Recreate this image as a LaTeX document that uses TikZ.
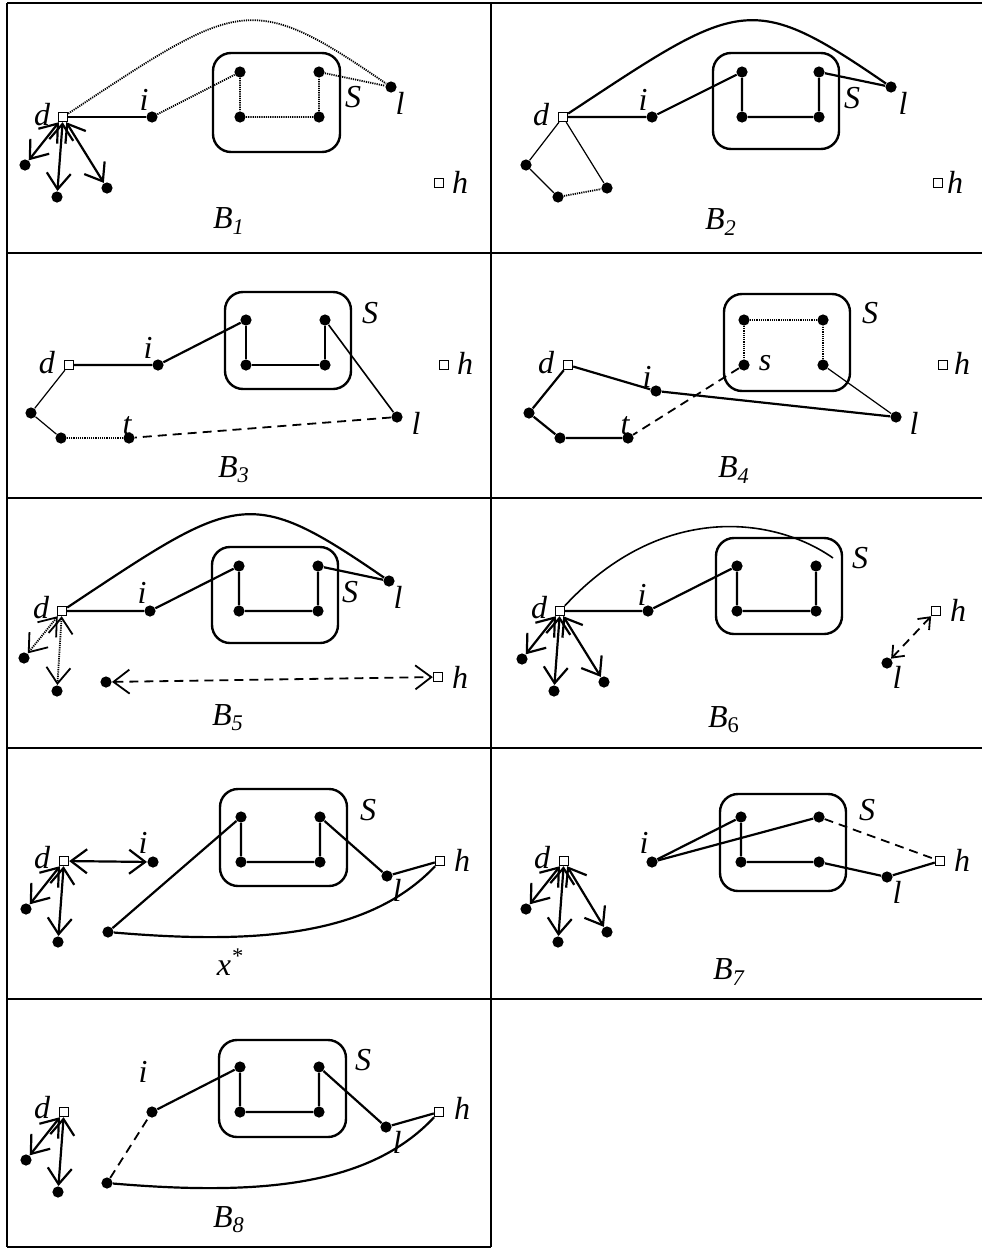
\documentclass[tikz,border=0pt]{standalone}
\usepackage{fontspec}
\setmainfont{Liberation Serif}
\usetikzlibrary{arrows.meta}

\begin{document}
\begin{tikzpicture}[x=0.5pt,y=-0.5pt,
  dot/.style={circle,fill,inner sep=0pt,minimum size=5.6pt},
  sq/.style={draw,fill=white,inner sep=0pt,minimum size=4.4pt,line width=0.8pt},
  lab/.style={font=\fontsize{16}{18}\selectfont\itshape,inner sep=0pt},
  sbox/.style={draw,line width=1.2pt,rounded corners=9pt},
  thk/.style={line width=1.1pt},
  mid/.style={line width=0.8pt},
  thn/.style={line width=0.6pt},
  dots/.style={line width=0.9pt,dash pattern=on 0.6pt off 0.5pt},
  dsh/.style={line width=0.9pt,dash pattern=on 4.5pt off 3pt},
  bi/.style={<->,line width=1.1pt,>={Straight Barb[length=8pt,width=12pt]}},
  sbi/.style={<->,line width=0.9pt,>={Straight Barb[length=5pt,width=8pt]}},
  grid/.style={line width=1pt}]
  \useasboundingbox (0,0) rectangle (982,1248);
  % table
  \draw[grid] (7,3)--(982,3) (7,253)--(982,253) (7,498)--(982,498)
    (7,748)--(982,748) (7,999)--(982,999) (7,1247)--(491,1247);
  \draw[grid] (7,3)--(7,1247) (491,3)--(491,1247);

  % B1
  \draw[sbox] (213,53) rectangle (340,152);
  \node[sq] (d1) at (63,117) {};
  \node[dot] (i1) at (152,117) {};
  \node[dot] (u1) at (240,72) {}; \node[dot] (v1) at (319,72) {};
  \node[dot] (w1) at (240,117) {}; \node[dot] (z1) at (319,117) {};
  \node[dot] (l1) at (391,87) {};
  \node[sq] (h1) at (439,183) {};
  \node[dot] (a1) at (25,165) {}; \node[dot] (b1) at (57,197) {}; \node[dot] (c1) at (107,188) {};
  \node[lab] (nd1) at (42,115) {d}; \node[lab] (ni1) at (144,100) {i};
  \node[lab] (nS1) at (353,97) {S}; \node[lab] (nl1) at (400,103) {l};
  \node[lab] (nh1) at (460,182) {h}; \node[lab] (nB1) at (229,221) {B\textsubscript{1}};
  \draw[thk] (d1) -- (i1);
  \draw[dots] (i1) -- (u1) -- (w1) -- (z1) -- (v1) -- (l1);
  \draw[dots] (d1) .. controls (240,0) and (250,-10) .. (l1);
  \draw[bi] (d1) -- (a1); \draw[bi] (d1) -- (b1); \draw[bi] (d1) -- (c1);

  % B2
  \draw[sbox] (713,53) rectangle (839,149);
  \node[sq] (d2) at (563,117) {};
  \node[dot] (i2) at (652,117) {};
  \node[dot] (u2) at (742,72) {}; \node[dot] (v2) at (819,72) {};
  \node[dot] (w2) at (742,117) {}; \node[dot] (z2) at (819,117) {};
  \node[dot] (l2) at (891,87) {};
  \node[sq] (h2) at (938,183) {};
  \node[dot] (a2) at (526,165) {}; \node[dot] (b2) at (558,197) {}; \node[dot] (c2) at (607,188) {};
  \node[lab] (nd2) at (541,115) {d}; \node[lab] (ni2) at (643,100) {i};
  \node[lab] (nS2) at (852,98) {S}; \node[lab] (nl2) at (903,103) {l};
  \node[lab] (nh2) at (955,182) {h}; \node[lab] (nB2) at (721,222) {B\textsubscript{2}};
  \draw[thk] (d2) -- (i2) -- (u2) -- (w2) -- (z2) -- (v2) -- (l2);
  \draw[thk] (d2) .. controls (740,0) and (750,-10) .. (l2);
  \draw[thn] (d2) -- (a2) -- (b2);
  \draw[dots] (b2) -- (c2);
  \draw[thn] (c2) -- (d2);

  % B3
  \draw[sbox] (225,292) rectangle (351,389);
  \node[sq] (d3) at (69,365) {};
  \node[dot] (i3) at (158,365) {};
  \node[dot] (u3) at (246,320) {}; \node[dot] (v3) at (325,320) {};
  \node[dot] (w3) at (246,365) {}; \node[dot] (z3) at (325,365) {};
  \node[dot] (l3) at (397,417) {};
  \node[sq] (h3) at (444,365) {};
  \node[dot] (a3) at (31,413) {}; \node[dot] (b3) at (61,438) {}; \node[dot] (t3) at (129,438) {};
  \node[lab] (nd3) at (47,363) {d}; \node[lab] (ni3) at (148,348) {i};
  \node[lab] (nS3) at (370,313) {S}; \node[lab] (nl3) at (416,423) {l};
  \node[lab] (nh3) at (465,363) {h}; \node[lab] (nt3) at (127,426) {t};
  \node[lab] (nB3) at (234,470) {B\textsubscript{3}};
  \draw[thk] (d3) -- (i3) -- (u3);
  \draw[mid] (u3) -- (w3);
  \draw[thk] (w3) -- (z3);
  \draw[mid] (z3) -- (v3) -- (l3);
  \draw[dsh] (l3) -- (t3);
  \draw[dots] (t3) -- (b3);
  \draw[thn] (b3) -- (a3) -- (d3);

  % B4
  \draw[sbox] (724,294) rectangle (850,391);
  \node[sq] (d4) at (568,365) {};
  \node[dot] (i4) at (656,391) {};
  \node[dot] (u4) at (744,320) {}; \node[dot] (v4) at (823,320) {};
  \node[dot] (s4) at (744,365) {}; \node[dot] (z4) at (823,365) {};
  \node[dot] (l4) at (896,417) {};
  \node[sq] (h4) at (943,365) {};
  \node[dot] (a4) at (529,413) {}; \node[dot] (b4) at (560,438) {}; \node[dot] (t4) at (628,438) {};
  \node[lab] (nd4) at (546,363) {d}; \node[lab] (ni4) at (647,377) {i};
  \node[lab] (ns4) at (765,363) {s}; \node[lab] (nS4) at (870,313) {S};
  \node[lab] (nl4) at (914,423) {l}; \node[lab] (nh4) at (962,363) {h};
  \node[lab] (nt4) at (625,426) {t}; \node[lab] (nB4) at (734,470) {B\textsubscript{4}};
  \draw[thk] (d4) -- (i4) -- (l4);
  \draw[thn] (l4) -- (z4);
  \draw[dots] (z4) -- (v4) -- (u4) -- (s4);
  \draw[dsh] (s4) -- (t4);
  \draw[thk] (t4) -- (b4) -- (a4) -- (d4);

  % B5
  \draw[sbox] (212,547) rectangle (338,643);
  \node[sq] (d5) at (62,611) {};
  \node[dot] (i5) at (150,611) {};
  \node[dot] (u5) at (239,566) {}; \node[dot] (v5) at (318,566) {};
  \node[dot] (w5) at (239,611) {}; \node[dot] (z5) at (318,611) {};
  \node[dot] (l5) at (389,581) {};
  \node[sq] (h5) at (438,677) {};
  \node[dot] (a5) at (24,658) {}; \node[dot] (b5) at (57,691) {}; \node[dot] (c5) at (106,682) {};
  \node[lab] (nd5) at (41,608) {d}; \node[lab] (ni5) at (142,593) {i};
  \node[lab] (nS5) at (350,592) {S}; \node[lab] (nl5) at (398,597) {l};
  \node[lab] (nh5) at (460,677) {h}; \node[lab] (nB5) at (228,718) {B\textsubscript{5}};
  \draw[thk] (d5) -- (i5) -- (u5) -- (w5) -- (z5) -- (v5) -- (l5);
  \draw[thk] (d5) .. controls (238,494) and (248,484) .. (l5);
  \draw[bi,dots] (d5) -- (a5); \draw[bi,dots] (d5) -- (b5);
  \draw[bi,dsh] (c5) -- (h5);

  % B6
  \draw[sbox] (716,538) rectangle (842,634);
  \node[sq] (d6) at (560,611) {};
  \node[dot] (i6) at (648,611) {};
  \node[dot] (u6) at (737,566) {}; \node[dot] (v6) at (816,566) {};
  \node[dot] (w6) at (737,611) {}; \node[dot] (z6) at (816,611) {};
  \coordinate (e6) at (833,558);
  \node[sq] (h6) at (936,611) {};
  \node[dot] (l6) at (887,663) {};
  \node[dot] (a6) at (522,659) {}; \node[dot] (b6) at (554,691) {}; \node[dot] (c6) at (604,682) {};
  \node[lab] (nd6) at (539,608) {d}; \node[lab] (ni6) at (642,595) {i};
  \node[lab] (nS6) at (860,558) {S}; \node[lab] (nh6) at (958,610) {h};
  \node[lab] (nl6) at (897,677) {l}; \node[lab] (nB6) at (724,720) {B\textsubscript{\upshape 6}};
  \draw[thk] (d6) -- (i6) -- (u6) -- (w6) -- (z6) -- (v6);
  \draw[mid] (d6) .. controls (662,501) and (775,517) .. (e6);
  \draw[bi] (d6) -- (a6); \draw[bi] (d6) -- (b6); \draw[bi] (d6) -- (c6);
  \draw[sbi,dsh] (l6) -- (h6);

  % x*
  \draw[sbox] (220,789) rectangle (347,886);
  \node[sq] (dx) at (64,861) {};
  \node[dot] (ix) at (153,862) {};
  \node[dot] (ux) at (241,817) {}; \node[dot] (vx) at (320,817) {};
  \node[dot] (wx) at (241,862) {}; \node[dot] (zx) at (320,862) {};
  \node[dot] (lx) at (387,876) {};
  \node[sq] (hx) at (440,861) {};
  \node[dot] (ax) at (26,909) {}; \node[dot] (bx) at (58,942) {}; \node[dot] (cx) at (108,932) {};
  \node[lab] (ndx) at (42,858) {d}; \node[lab] (nix) at (143,843) {i};
  \node[lab] (nSx) at (368,810) {S}; \node[lab] (nlx) at (397,890) {l};
  \node[lab] (nhx) at (462,860) {h}; \node[lab] (nxx) at (230,962) {x\textsuperscript{*}};
  \draw[bi] (dx) -- (ix); \draw[bi] (dx) -- (ax); \draw[bi] (dx) -- (bx);
  \draw[thk] (cx) -- (ux) -- (wx) -- (zx) -- (vx) -- (lx) -- (hx);
  \draw[thk] (hx) .. controls (370,935) and (260,945) .. (cx);

  % B7
  \draw[sbox] (720,794) rectangle (846,891);
  \node[sq] (d7) at (564,861) {};
  \node[dot] (i7) at (652,862) {};
  \node[dot] (u7) at (741,817) {}; \node[dot] (v7) at (819,817) {};
  \node[dot] (w7) at (741,862) {}; \node[dot] (z7) at (819,862) {};
  \node[dot] (l7) at (887,877) {};
  \node[sq] (h7) at (940,861) {};
  \node[dot] (a7) at (526,909) {}; \node[dot] (b7) at (558,942) {}; \node[dot] (c7) at (607,932) {};
  \node[lab] (nd7) at (542,858) {d}; \node[lab] (ni7) at (644,843) {i};
  \node[lab] (nS7) at (867,810) {S}; \node[lab] (nl7) at (897,892) {l};
  \node[lab] (nh7) at (962,860) {h}; \node[lab] (nB7) at (729,972) {B\textsubscript{7}};
  \draw[bi] (d7) -- (a7); \draw[bi] (d7) -- (b7); \draw[bi] (d7) -- (c7);
  \draw[thk] (i7) -- (u7) -- (w7) -- (z7) -- (l7) -- (h7);
  \draw[thk] (i7) -- (v7);
  \draw[dsh] (v7) -- (h7);

  % B8
  \draw[sbox] (219,1040) rectangle (346,1137);
  \node[sq] (d8) at (64,1112) {};
  \node[dot] (i8) at (152,1112) {};
  \node[dot] (u8) at (240,1067) {}; \node[dot] (v8) at (319,1067) {};
  \node[dot] (w8) at (240,1112) {}; \node[dot] (z8) at (319,1112) {};
  \node[dot] (l8) at (386,1127) {};
  \node[sq] (h8) at (439,1112) {};
  \node[dot] (a8) at (26,1160) {}; \node[dot] (b8) at (58,1192) {}; \node[dot] (c8) at (107,1183) {};
  \node[lab] (nd8) at (42,1108) {d}; \node[lab] (ni8) at (143,1072) {i};
  \node[lab] (nS8) at (363,1060) {S}; \node[lab] (nl8) at (397,1142) {l};
  \node[lab] (nh8) at (462,1108) {h}; \node[lab] (nB8) at (229,1220) {B\textsubscript{8}};
  \draw[bi] (d8) -- (a8); \draw[bi] (d8) -- (b8);
  \draw[thk] (i8) -- (u8) -- (w8) -- (z8) -- (v8) -- (l8) -- (h8);
  \draw[thk] (h8) .. controls (370,1186) and (260,1196) .. (c8);
  \draw[dsh] (c8) -- (i8);
\end{tikzpicture}
\end{document}
